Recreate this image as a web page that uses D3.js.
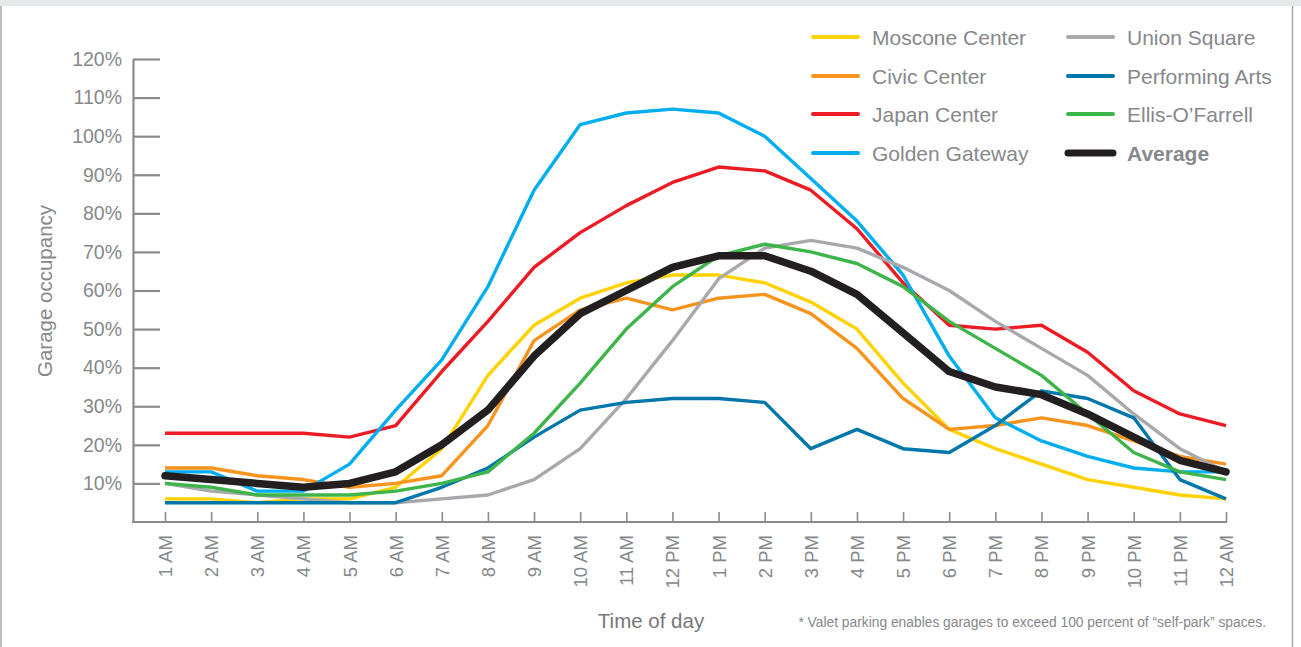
<!DOCTYPE html>
<html>
<head>
<meta charset="utf-8">
<script src="https://cdn.jsdelivr.net/npm/d3@7"></script>
<style>
  html, body { margin: 0; padding: 0; background: #fff; }
  svg { display: block; }
  text { font-family: "Liberation Sans", Arial, Helvetica, sans-serif; }
</style>
</head>
<body>
<svg id="chart" width="1301" height="647"></svg>
<script>
const hours = ["1 AM","2 AM","3 AM","4 AM","5 AM","6 AM","7 AM","8 AM","9 AM","10 AM","11 AM","12 PM",
               "1 PM","2 PM","3 PM","4 PM","5 PM","6 PM","7 PM","8 PM","9 PM","10 PM","11 PM","12 AM"];
const yTicks = [10,20,30,40,50,60,70,80,90,100,110,120];

const moscone        = [6,6,5,6,6,9,19,38,51,58,62,64,64,62,57,50,36,24,19,15,11,9,7,6];
const civicCenter    = [14,14,12,11,9,10,12,25,47,55,58,55,58,59,54,45,32,24,25,27,25,21,17,15];
const japanCenter    = [23,23,23,23,22,25,39,52,66,75,82,88,92,91,86,76,62,51,50,51,44,34,28,25];
const goldenGateway  = [13,13,8,8,15,29,42,61,86,103,106,107,106,100,89,78,64,43,27,21,17,14,13,13];
const unionSquare    = [10,8,7,6,5,5,6,7,11,19,32,47,63,71,73,71,66,60,52,45,38,28,19,13];
const performingArts = [5,5,5,5,5,5,9,14,22,29,31,32,32,31,19,24,19,18,25,34,32,27,11,6];
const ellisOFarrell  = [10,9,7,7,7,8,10,13,23,36,50,61,69,72,70,67,61,52,45,38,28,18,13,11];
const average        = [12,11,10,9,10,13,20,29,43,54,60,66,69,69,65,59,49,39,35,33,28,22,16,13];

const seriesNames  = ["Moscone Center","Civic Center","Japan Center","Golden Gateway",
                      "Union Square","Performing Arts","Ellis-O\u2019Farrell","Average"];
const seriesValues = [moscone, civicCenter, japanCenter, goldenGateway,
                      unionSquare, performingArts, ellisOFarrell, average];
const seriesColors = ["#ffd200","#f7941d","#ed1c24","#00aeef",
                      "#a7a9ac","#0077aa","#3db54a","#231f20"];

const textGray = "#86888b";
const axisGray = "#8b8b8d";

const svg = d3.select("#chart");

// frame
svg.append("rect").attr("x",0).attr("y",0).attr("width",1301).attr("height",6).attr("fill","#e6e7e8");
svg.append("line").attr("x1",1).attr("x2",1).attr("y1",6).attr("y2",647).attr("stroke","#a7a9ac").attr("stroke-width",1.5);
svg.append("line").attr("x1",1292.5).attr("x2",1292.5).attr("y1",6).attr("y2",647).attr("stroke","#a7a9ac").attr("stroke-width",1.5);

const x = d3.scalePoint().domain(hours).range([165, 1226]);
const y = d3.scaleLinear().domain([0,120]).range([522, 59]);
const axisLeftX = 133;

// y axis
const yAxis = svg.append("g").attr("transform", `translate(${axisLeftX},0)`)
  .call(d3.axisLeft(y).tickValues(yTicks).tickSize(-27).tickSizeOuter(0).tickPadding(11)
        .tickFormat(d => d + "%"));
yAxis.select(".domain").attr("stroke", axisGray).attr("stroke-width", 2.2);
yAxis.selectAll(".tick line").attr("stroke", axisGray).attr("stroke-width", 2.2);
yAxis.selectAll(".tick text").attr("fill", textGray).style("font-size","19.5px");

// x axis
const xAxis = svg.append("g").attr("transform", `translate(0,${y(0)})`)
  .call(d3.axisBottom(x).tickSize(-10).tickSizeOuter(0));
xAxis.select(".domain").remove();
xAxis.append("line").attr("x1", axisLeftX - 1).attr("x2", x.range()[1] + 1)
  .attr("y1",0).attr("y2",0).attr("stroke", axisGray).attr("stroke-width", 2.2);
xAxis.selectAll(".tick line").attr("stroke", axisGray).attr("stroke-width", 1.6);
xAxis.selectAll(".tick text")
  .attr("transform","rotate(-90)")
  .attr("x",-13).attr("y",0).attr("dy","0.35em")
  .style("text-anchor","end")
  .attr("fill", textGray).style("font-size","18.5px");

// lines
const line = d3.line().x((d,i) => x(hours[i])).y(d => y(d));
seriesValues.forEach((vals, k) => {
  svg.append("path").datum(vals)
    .attr("d", line)
    .attr("fill","none")
    .attr("stroke", seriesColors[k])
    .attr("stroke-width", k === 7 ? 7.5 : 3.4)
    .attr("stroke-linejoin","round")
    .attr("stroke-linecap", k === 7 ? "round" : "butt");
});

// legend
const legendCols = [813, 1068];
const legendRows = [37, 76, 114, 153];
const legend = svg.append("g");
seriesNames.forEach((name, k) => {
  const cx = legendCols[Math.floor(k/4)], ry = legendRows[k % 4];
  legend.append("line").attr("x1", cx).attr("x2", cx + 45).attr("y1", ry).attr("y2", ry)
    .attr("stroke", seriesColors[k]).attr("stroke-width", k === 7 ? 7 : 4)
    .attr("stroke-linecap","round");
  legend.append("text").attr("x", cx + 59).attr("y", ry + 7.5)
    .attr("fill", textGray).style("font-size","21px")
    .style("font-weight", k === 7 ? "bold" : "normal")
    .text(name);
});

// titles
svg.append("text").attr("transform","translate(52,291) rotate(-90)")
  .style("text-anchor","middle").attr("fill", textGray).style("font-size","20.5px")
  .text("Garage occupancy");
svg.append("text").attr("x",651).attr("y",628)
  .style("text-anchor","middle").attr("fill", "#76777a").style("font-size","20.5px")
  .text("Time of day");
svg.append("text").attr("x",1266).attr("y",627)
  .style("text-anchor","end").attr("fill", textGray).style("font-size","13.8px")
  .text("* Valet parking enables garages to exceed 100 percent of \u201Cself-park\u201D spaces.");
</script>
</body>
</html>
